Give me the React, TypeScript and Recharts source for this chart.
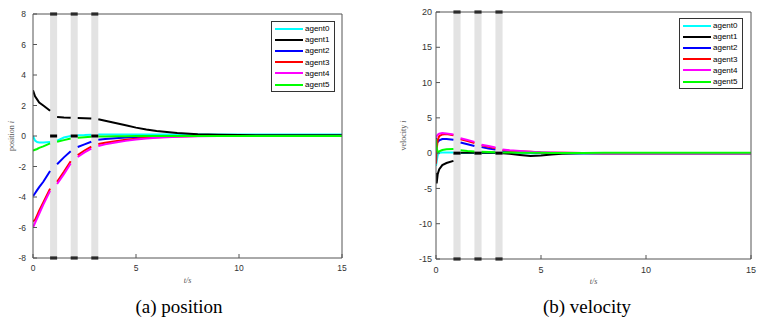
import React from "react";
import {
  LineChart,
  Line,
  XAxis,
  YAxis,
  ReferenceArea,
  ReferenceLine,
  Label,
} from "recharts";

// agent names + colours (MATLAB default style)
const AGENTS = ["agent0", "agent1", "agent2", "agent3", "agent4", "agent5"];
const COLORS = ["#00ffff", "#000000", "#0000ff", "#ff0000", "#ff00ff", "#00ff00"];

// attack intervals (grey bands)
const BANDS = [
  [0.83, 1.17],
  [1.83, 2.17],
  [2.83, 3.17],
];

const X_TICKS = [0, 5, 10, 15];
const POS_TICKS = [-8, -6, -4, -2, 0, 2, 4, 6, 8];
const VEL_TICKS = [-15, -10, -5, 0, 5, 10, 15, 20];

// ---- position data (null = inside a band, line broken) ----
const T_POS = [0, 0.1, 0.2, 0.3, 0.5, 0.83, 1.0, 1.17, 1.5, 1.83, 2.0, 2.17, 2.5, 2.83, 3.0, 3.17, 3.5, 4, 4.5, 5, 5.5, 6, 7, 8, 9, 10, 12, 15];
const POS_A0 = [0, -0.3, -0.4, -0.42, -0.42, -0.4, null, -0.3, -0.1, 0, null, 0.05, 0.06, 0.08, null, 0.1, 0.1, 0.1, 0.1, 0.1, 0.1, 0.1, 0.1, 0.1, 0.1, 0.1, 0.1, 0.1];
const POS_A1 = [3.0, 2.6, 2.4, 2.2, 2.0, 1.65, null, 1.25, 1.22, 1.2, null, 1.18, 1.17, 1.15, null, 1.1, 1.0, 0.85, 0.7, 0.55, 0.42, 0.33, 0.2, 0.12, 0.08, 0.06, 0.05, 0.05];
const POS_A2 = [-3.95, -3.75, -3.55, -3.35, -3.0, -2.3, null, -1.85, -1.4, -1.0, null, -0.72, -0.55, -0.38, null, -0.25, -0.2, -0.14, -0.1, -0.06, -0.04, -0.02, 0, 0, 0, 0, 0, 0];
const POS_A3 = [-5.6, -5.5, -5.2, -4.9, -4.35, -3.45, null, -3.0, -2.35, -1.65, null, -1.25, -0.95, -0.7, null, -0.52, -0.44, -0.34, -0.25, -0.18, -0.12, -0.08, -0.03, 0, 0, 0, 0, 0];
const POS_A4 = [-6.0, -5.7, -5.4, -5.1, -4.5, -3.6, null, -3.15, -2.5, -1.8, null, -1.38, -1.07, -0.82, null, -0.66, -0.55, -0.43, -0.32, -0.23, -0.16, -0.11, -0.05, -0.02, 0, 0, 0, 0];
const POS_A5 = [-0.95, -0.9, -0.85, -0.78, -0.68, -0.48, null, -0.38, -0.27, -0.17, null, -0.12, -0.08, -0.05, null, -0.04, -0.03, -0.02, -0.01, 0, 0, 0, 0, 0, 0, 0, 0, 0];

// ---- velocity data ----
const T_VEL = [0, 0.03, 0.08, 0.15, 0.3, 0.5, 0.83, 1.0, 1.17, 1.5, 1.83, 2.0, 2.17, 2.5, 2.83, 3.0, 3.17, 3.5, 4, 4.5, 5, 5.5, 6, 7, 8, 10, 15];
const VEL_A0 = [-1.8, -1.2, -0.3, 0.05, 0.1, 0.1, 0.1, null, 0.02, 0.02, 0.02, null, 0.02, 0.02, 0.02, null, 0.01, 0.01, 0, 0, 0, 0, 0, 0, 0, 0, 0];
const VEL_A1 = [-2.8, -4.3, -3.0, -2.3, -1.7, -1.4, -1.1, null, 0.05, 0.05, 0.05, null, 0.05, 0.05, 0.05, null, 0, -0.1, -0.25, -0.4, -0.35, -0.2, -0.1, -0.03, 0, 0, 0];
const VEL_A2 = [2.2, 1.7, 1.6, 1.8, 2.0, 2.0, 1.9, null, 1.5, 1.25, 1.0, null, 0.85, 0.65, 0.5, null, 0.3, 0.22, 0.15, 0.1, 0.06, 0.03, 0.02, 0, 0, 0, 0];
const VEL_A3 = [-1.5, 0.5, 1.8, 2.4, 2.65, 2.7, 2.55, null, 1.95, 1.7, 1.45, null, 1.1, 0.9, 0.7, null, 0.45, 0.35, 0.25, 0.18, 0.1, 0.06, 0.04, 0.01, 0, 0, 0];
const VEL_A4 = [2.2, 2.4, 2.6, 2.75, 2.85, 2.8, 2.65, null, 2.1, 1.85, 1.6, null, 1.2, 1.0, 0.8, null, 0.5, 0.4, 0.3, 0.2, 0.12, 0.08, 0.05, 0.02, 0, 0, 0];
const VEL_A5 = [2.0, 0.8, 0.1, 0.25, 0.45, 0.55, 0.6, null, 0.4, 0.3, 0.25, null, 0.2, 0.15, 0.12, null, 0.1, 0.08, 0.06, 0.05, 0.04, 0.03, 0.02, 0.01, 0.05, 0.05, 0.05];

const buildRows = (t: number[], series: (number | null)[][]) =>
  t.map((x, i) => {
    const row: any = { t: x };
    series.forEach((s, k) => (row[AGENTS[k]] = s[i]));
    return row;
  });

const posRows = buildRows(T_POS, [POS_A0, POS_A1, POS_A2, POS_A3, POS_A4, POS_A5]);
const velRows = buildRows(T_VEL, [VEL_A0, VEL_A1, VEL_A2, VEL_A3, VEL_A4, VEL_A5]);

const SANS = "'Liberation Sans', Arial, sans-serif";
const SERIF = "'Liberation Serif', 'Times New Roman', serif";
const AXIS_COLOR = "#555";

// legend drawn as a plain box on top of the chart
const LegendBox = ({ left, top }: { left: number; top: number }) => (
  <div
    style={{
      position: "absolute",
      left,
      top,
      border: "1px solid #333",
      background: "#fff",
      padding: "1px 3px 1px 3px",
      width: 56,
      fontFamily: SANS,
      fontSize: 8,
      lineHeight: "9px",
      color: "#000",
    }}
  >
    {AGENTS.map((a, i) => (
      <div key={a} style={{ display: "flex", alignItems: "center", height: 11.2 }}>
        <div style={{ width: 28, height: 2, background: COLORS[i], marginRight: 2 }} />
        <span>{a}</span>
      </div>
    ))}
  </div>
);

const yTitle = (word: string, x: number) => (props: any) => {
  const vb = props.viewBox || {};
  const cy = vb.y + vb.height / 2;
  return (
    <text
      x={x}
      y={cy}
      transform={`rotate(-90 ${x} ${cy})`}
      textAnchor="middle"
      dominantBaseline="middle"
      fontFamily={SERIF}
      fontSize={8}
      fill="#555"
    >
      {word} <tspan fontStyle="italic">i</tspan>
    </text>
  );
};

type PanelProps = {
  rows: any[];
  yDomain: [number, number];
  yTicks: number[];
  width: number;
  height: number;
  margin: { top: number; right: number; bottom: number; left: number };
  yWord: string;
  yTitleX: number;
  tickFont: number;
  yTickMargin: number;
  xTickMargin: number;
};

const Panel = ({ rows, yDomain, yTicks, width, height, margin, yWord, yTitleX, tickFont, yTickMargin, xTickMargin }: PanelProps) => {
  const [lo, hi] = yDomain;
  return (
    <LineChart width={width} height={height} data={rows} margin={margin}>
      <XAxis
        dataKey="t"
        type="number"
        domain={[0, 15]}
        ticks={X_TICKS}
        allowDataOverflow
        height={26}
        tickSize={-4}
        tickMargin={xTickMargin}
        stroke={AXIS_COLOR}
        tick={{ fill: "#333", fontSize: tickFont, fontFamily: SANS }}
      >
        <Label
          value="t/s"
          position="insideBottom"
          offset={1}
          style={{ fontFamily: SERIF, fontStyle: "italic", fontSize: 8, fill: "#555" }}
        />
      </XAxis>
      <XAxis
        xAxisId="top"
        orientation="top"
        type="number"
        domain={[0, 15]}
        ticks={X_TICKS}
        allowDataOverflow
        height={0}
        tickSize={-4}
        tick={false}
        stroke={AXIS_COLOR}
      />
      <YAxis
        type="number"
        domain={yDomain}
        ticks={yTicks}
        allowDataOverflow
        width={25}
        tickSize={-4}
        tickMargin={yTickMargin}
        stroke={AXIS_COLOR}
        tick={{ fill: "#333", fontSize: tickFont, fontFamily: SANS }}
        label={{ content: yTitle(yWord, yTitleX) } as any}
      />
      <YAxis
        yAxisId="right"
        orientation="right"
        type="number"
        domain={yDomain}
        ticks={yTicks}
        allowDataOverflow
        width={0}
        tickSize={-4}
        tick={false}
        stroke={AXIS_COLOR}
      />
      {BANDS.map(([a, b]) => (
        <ReferenceArea key={`band-${a}`} x1={a} x2={b} y1={lo} y2={hi} fill="#e3e3e3" fillOpacity={1} stroke="none" ifOverflow="visible" />
      ))}
      {AGENTS.map((a, i) => (
        <Line
          key={a}
          dataKey={a}
          type="linear"
          stroke={COLORS[i]}
          strokeWidth={2}
          dot={false}
          connectNulls={false}
          isAnimationActive={false}
        />
      ))}
      {BANDS.map(([a, b]) =>
        [lo, 0, hi].map((y) => (
          <ReferenceLine
            key={`mark-${a}-${y}`}
            segment={[
              { x: a, y },
              { x: b, y },
            ]}
            stroke="#000"
            strokeWidth={3}
            ifOverflow="visible"
          />
        ))
      )}
      {/* box edges */}
      <ReferenceLine x={15} stroke={AXIS_COLOR} strokeWidth={1} ifOverflow="visible" />
      <ReferenceLine y={hi} stroke={AXIS_COLOR} strokeWidth={1} ifOverflow="visible" />
    </LineChart>
  );
};

const captionStyle: React.CSSProperties = {
  position: "absolute",
  top: 296,
  width: 200,
  textAlign: "center",
  fontFamily: SERIF,
  fontSize: 19,
  lineHeight: "22px",
  color: "#000",
};

export default function App() {
  return (
    <div style={{ position: "absolute", left: 0, top: 0, width: 761, height: 329, background: "#fff", overflow: "hidden" }}>
      <div style={{ position: "absolute", left: 0, top: 0 }}>
        <Panel
          rows={posRows}
          yDomain={[-8, 8]}
          yTicks={POS_TICKS}
          width={370}
          height={290}
          margin={{ top: 14, right: 28, bottom: 6, left: 8 }}
          yWord="position"
          yTitleX={12}
          tickFont={8.5}
          yTickMargin={11}
          xTickMargin={11}
        />
      </div>
      <div style={{ position: "absolute", left: 380, top: 0 }}>
        <Panel
          rows={velRows}
          yDomain={[-15, 20]}
          yTicks={VEL_TICKS}
          width={381}
          height={290}
          margin={{ top: 12, right: 10, bottom: 5, left: 31 }}
          yWord="velocity"
          yTitleX={24}
          tickFont={9}
          yTickMargin={8}
          xTickMargin={12}
        />
      </div>
      <LegendBox left={271} top={21} />
      <LegendBox left={679} top={18} />
      <div style={{ ...captionStyle, left: 79 }}>(a) position</div>
      <div style={{ ...captionStyle, left: 487 }}>(b) velocity</div>
    </div>
  );
}
